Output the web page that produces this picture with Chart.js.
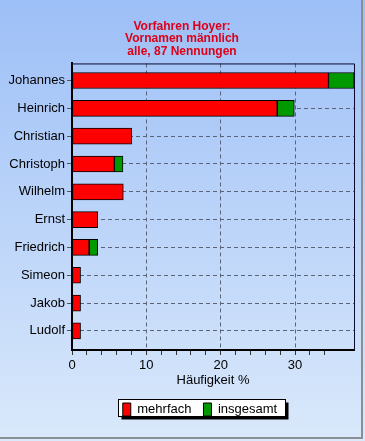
<!DOCTYPE html>
<html>
<head>
<meta charset="utf-8">
<script src="https://cdn.jsdelivr.net/npm/chart.js@4"></script>
<style>
  html, body { margin: 0; padding: 0; background: #dbe9fb; }
  canvas { display: block; }
</style>
</head>
<body>
<canvas id="chart" width="365" height="441"></canvas>
<script>
const names = ['Johannes', 'Heinrich', 'Christian', 'Christoph', 'Wilhelm', 'Ernst', 'Friedrich', 'Simeon', 'Jakob', 'Ludolf'];
const mehrfach = [34.5, 27.6, 8.05, 5.7, 6.9, 3.45, 2.3, 1.15, 1.15, 1.15];
const insgesamt = [3.45, 2.3, 0, 1.15, 0, 0, 1.15, 0, 0, 0];
const titleLines = ['Vorfahren Hoyer:', 'Vornamen männlich', 'alle, 87 Nennungen'];
const xTitle = 'Häufigkeit %';
const xMax = 37.93;

const font = "'Liberation Sans', Arial, sans-serif";
const gridDash = '#5a6478';

const backdrop = {
    id: 'backdrop',
    afterLayout(chart) {
        // the original centres title and legend a bit to the right
        const t = chart.titleBlock;
        t.left += 5; t.right += 5;
        const l = chart.legend;
        l.left += 23; l.right += 23;
        l.legendHitBoxes.forEach(b => { b.left += 23; });
    },
    beforeDraw(chart) {
        const c = chart.ctx;
        const w = chart.width, h = chart.height;
        const g = c.createLinearGradient(0, 0, 0, h);
        g.addColorStop(0, '#9dbff7');
        g.addColorStop(1, '#dae9fb');
        c.save();
        c.fillStyle = g;
        c.fillRect(0, 0, w, h);
        c.strokeStyle = '#8a8f96';
        c.lineWidth = 2;
        c.beginPath();
        c.moveTo(362, 0);
        c.lineTo(362, 438);
        c.lineTo(0, 438);
        c.stroke();
        // legend frame with shadow
        const boxes = chart.legend.legendHitBoxes;
        if (boxes && boxes.length) {
            const first = boxes[0], last = boxes[boxes.length - 1];
            const x0 = Math.round(first.left) - 4.5;
            const x1 = Math.round(last.left + last.width) + 8.5;
            const y0 = Math.round(first.top) - 3.5;
            const y1 = y0 + 17;
            c.fillStyle = '#000';
            c.fillRect(x0 + 3, y0 + 3, x1 - x0, y1 - y0);
            c.fillStyle = '#fff';
            c.fillRect(x0, y0, x1 - x0, y1 - y0);
            c.strokeStyle = '#000';
            c.lineWidth = 1;
            c.strokeRect(x0, y0, x1 - x0, y1 - y0);
        }
        c.restore();
    },
    afterDraw(chart) {
        const a = chart.chartArea;
        const c = chart.ctx;
        c.save();
        c.strokeStyle = '#0a0a30';
        c.lineWidth = 1;
        c.beginPath();
        c.moveTo(a.left, a.top + 0.5);
        c.lineTo(a.right + 0.5, a.top + 0.5);
        c.lineTo(a.right + 0.5, a.bottom);
        c.stroke();
        c.restore();
    }
};

new Chart(document.getElementById('chart'), {
    type: 'bar',
    data: {
        labels: names,
        datasets: [{
            label: 'mehrfach',
            data: mehrfach,
            backgroundColor: '#ff0000',
            borderColor: '#000',
            borderWidth: 1,
            borderSkipped: false
        }, {
            label: 'insgesamt',
            data: insgesamt,
            backgroundColor: '#009a00',
            borderColor: '#000',
            borderWidth: 1,
            borderSkipped: false
        }]
    },
    options: {
        indexAxis: 'y',
        responsive: false,
        animation: false,
        barThickness: 16,
        layout: { padding: { left: 0, right: 11, top: 0, bottom: 15 } },
        scales: {
            x: {
                stacked: true,
                min: 0,
                max: xMax,
                afterFit(scale) { scale.height = 41; },
                ticks: {
                    stepSize: 2,
                    autoSkip: false,
                    maxRotation: 0,
                    padding: 3,
                    color: '#000',
                    font: { family: font, size: 13 },
                    callback: v => (v % 10 === 0 ? v : '')
                },
                grid: {
                    color: ctx => (ctx.tick && ctx.tick.value % 10 === 0 && ctx.tick.value > 0 ? gridDash : 'rgba(0,0,0,0)'),
                    tickColor: ctx => (ctx.tick && ctx.tick.value <= 36 ? '#333' : 'rgba(0,0,0,0)'),
                    tickLength: 5,
                    lineWidth: 1
                },
                border: { color: '#000', width: 2, dash: [4, 3] },
                title: {
                    display: true,
                    text: xTitle,
                    color: '#000',
                    font: { family: font, size: 13 },
                    padding: { top: 0, bottom: 3 }
                }
            },
            y: {
                stacked: true,
                afterFit(scale) { scale.width = 72; },
                afterBuildTicks(scale) {
                    // uneven margins above first and below last category, as in the original
                    scale._startValue = -0.614;
                    scale._valueRange = 10.3;
                },
                ticks: {
                    color: '#000',
                    padding: 2,
                    font: { family: font, size: 13 }
                },
                grid: {
                    offset: false,
                    color: gridDash,
                    tickColor: '#555',
                    tickLength: 5
                },
                border: { color: '#000', width: 2, dash: [4, 3] }
            }
        },
        plugins: {
            title: {
                display: true,
                text: titleLines,
                color: '#dd0018',
                font: { family: font, size: 12, weight: 'bold', lineHeight: 1.04 },
                padding: { top: 20, bottom: 6 }
            },
            legend: {
                position: 'bottom',
                labels: {
                    boxWidth: 8,
                    boxHeight: 13,
                    padding: 12,
                    color: '#000',
                    font: { family: font, size: 13 }
                }
            },
            tooltip: { enabled: false }
        }
    },
    plugins: [backdrop]
});
</script>
</body>
</html>
